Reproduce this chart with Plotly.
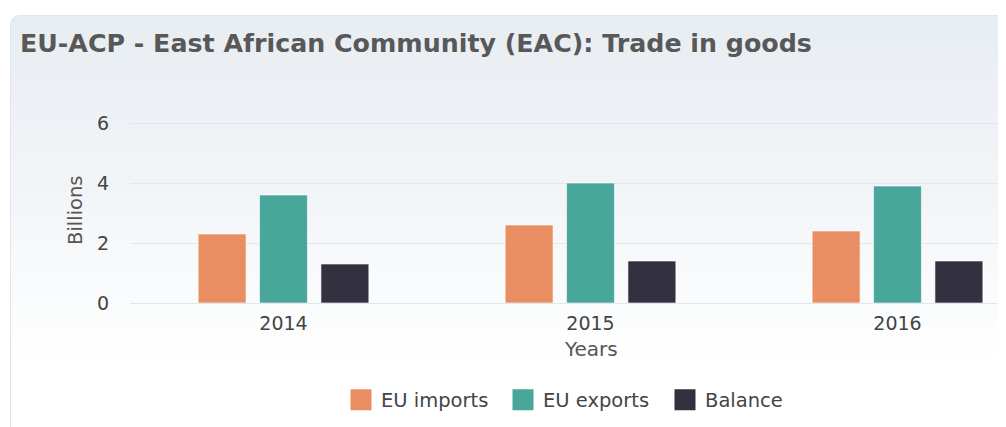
import base64
import plotly.graph_objects as go

# Trade in goods, EUR billions
years = ['2014', '2015', '2016']
eu_imports = [2.3, 2.6, 2.4]
eu_exports = [3.6, 4.0, 3.9]
balance = [1.3, 1.4, 1.4]

series_names = ['EU imports', 'EU exports', 'Balance']
series_colors = ['#e88e62', '#49a69b', '#33303f']

FONT = 'DejaVu Sans, Verdana, sans-serif'

# page has an 8px body margin, so work in screen pixels and shift
OFF = 8
W, H = 1006 - OFF, 427 - OFF
L, T, B = 130 - OFF, 114 - OFF, 124
plot_w = W - L
plot_h = H - T - B
base_y = 303 - OFF          # screen y of the zero line, in figure pixels


def px_x(sx):
    return (sx - OFF - L) / plot_w


def px_y(sy):
    return (base_y - (sy - OFF)) / plot_h


# light gradient card behind everything
card_w, card_h = 1010, 425
svg = f'''<svg xmlns="http://www.w3.org/2000/svg" width="{card_w}" height="{card_h}" viewBox="0 0 {card_w} {card_h}" preserveAspectRatio="none">
<defs><linearGradient id="g" x1="0" y1="0" x2="0" y2="1">
<stop offset="0" stop-color="#e8edf2"/><stop offset="0.4" stop-color="#f2f5f8"/><stop offset="0.78" stop-color="#ffffff"/><stop offset="1" stop-color="#ffffff"/>
</linearGradient></defs>
<rect x="0.5" y="0.5" width="{card_w + 20}" height="{card_h + 20}" rx="9" ry="9" fill="url(#g)" stroke="#dfe6ee" stroke-width="1"/>
</svg>'''
card_src = 'data:image/svg+xml;base64,' + base64.b64encode(svg.encode()).decode()

fig = go.Figure()
for name, vals, col in zip(series_names, [eu_imports, eu_exports, balance], series_colors):
    fig.add_trace(go.Bar(
        x=years, y=vals, name=name, showlegend=False,
        marker=dict(color=col, line=dict(color='rgba(255,255,255,0.6)', width=1)),
    ))
# legend entries with bigger square swatches
for name, col in zip(series_names, series_colors):
    fig.add_trace(go.Scatter(
        x=[None], y=[None], name=name, mode='markers',
        marker=dict(symbol='square', size=16, color=col, line=dict(color=col, width=5)),
    ))

fig.add_layout_image(
    source=card_src, xref='paper', yref='paper',
    x=px_x(10), y=px_y(15),
    sizex=card_w / plot_w, sizey=card_h / plot_h,
    xanchor='left', yanchor='top', sizing='stretch', layer='below',
)

fig.add_annotation(
    text='Billions', textangle=-90, showarrow=False,
    xref='paper', yref='paper', x=px_x(75), y=px_y(210),
    xanchor='center', yanchor='middle',
    font=dict(family=FONT, size=19.5, color='#555555'),
)
fig.add_annotation(
    text='Years', showarrow=False,
    xref='x', yref='paper', x=1, y=px_y(349),
    xanchor='center', yanchor='middle',
    font=dict(family=FONT, size=20, color='#555555'),
)

fig.update_layout(
    width=W, height=H,
    margin=dict(l=L, r=0, t=T, b=B),
    paper_bgcolor='white', plot_bgcolor='rgba(0,0,0,0)',
    title=dict(
        text='<b>EU-ACP - East African Community (EAC): Trade in goods</b>',
        x=(20 - OFF) / W, xanchor='left', xref='container',
        y=1 - (43 - OFF) / H, yanchor='middle', yref='container',
        font=dict(family=FONT, size=25.3, color='#585858'),
    ),
    barmode='group', bargap=0.4, bargroupgap=0.22,
    font=dict(family=FONT, size=19, color='#444444'),
    xaxis=dict(
        type='category', range=[-0.5, -0.5 + plot_w / 307],
        showgrid=False, showline=True, linecolor='#e3e6ea', linewidth=1,
        ticks='', ticklabelstandoff=3,
        tickfont=dict(family=FONT, size=19, color='#444444'),
    ),
    yaxis=dict(
        range=[0, plot_h / 30], tickvals=[0, 2, 4, 6],
        showgrid=True, gridcolor='#e3e6ea', gridwidth=1, zeroline=False,
        ticks='', ticklabelstandoff=20,
        tickfont=dict(family=FONT, size=19, color='#444444'),
    ),
    legend=dict(
        orientation='h', x=px_x(584), xanchor='center',
        y=px_y(400), yanchor='middle',
        font=dict(family=FONT, size=19.5, color='#444444'),
        bgcolor='rgba(0,0,0,0)', itemsizing='trace',
        entrywidth=117, entrywidthmode='pixels',
    ),
    showlegend=True,
)

fig.write_html('out.html')
